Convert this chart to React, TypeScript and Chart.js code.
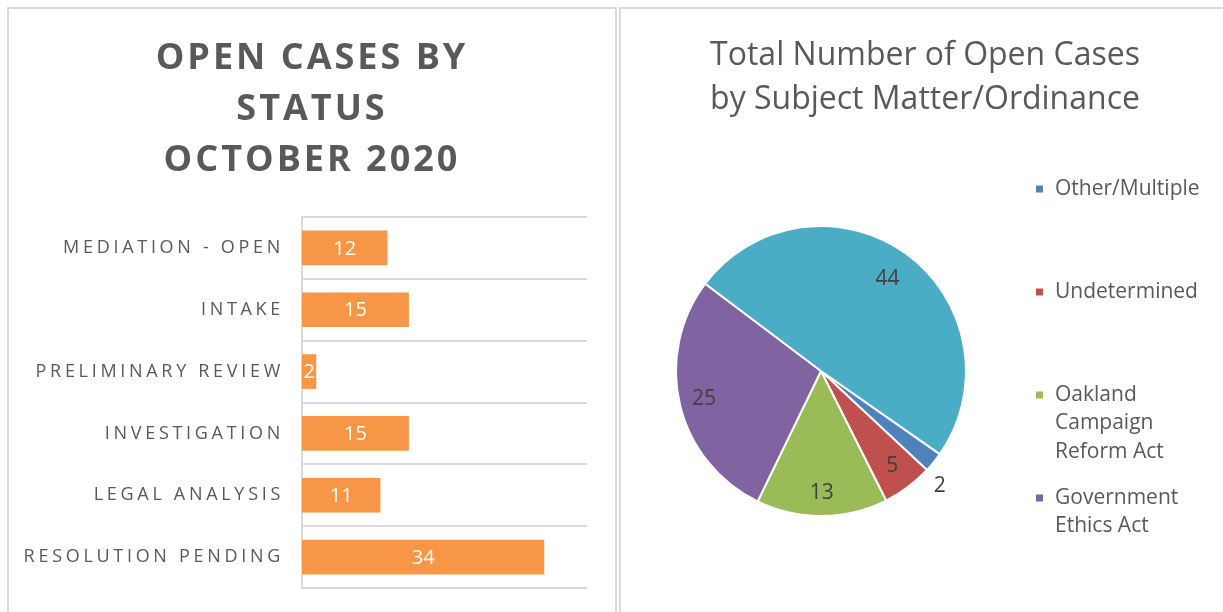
import React, { useEffect, useRef } from "react";
import { Chart, registerables, layouts } from "chart.js";

Chart.register(...registerables);

const FONT = "'Open Sans', 'Noto Sans', sans-serif";
const TEXT_GRAY = "#595959";

// ---- Left chart: open cases by status ----
const statusTitle = ["OPEN CASES BY", "STATUS", "OCTOBER 2020"];
const statusCategories = [
  "MEDIATION - OPEN",
  "INTAKE",
  "PRELIMINARY REVIEW",
  "INVESTIGATION",
  "LEGAL ANALYSIS",
  "RESOLUTION PENDING",
];
const statusCounts = [12, 15, 2, 15, 11, 34];
const statusAxisMax = 40;

// ---- Right chart: open cases by subject matter ----
const subjectTitle = ["Total Number of Open Cases", "by Subject Matter/Ordinance"];
const subjectLabels = [
  "Other/Multiple",
  "Undetermined",
  "Oakland Campaign Reform Act",
  "Government Ethics Act",
  "Unlabeled",
];
const subjectCounts = [2, 5, 13, 25, 44];
const subjectColors = ["#4F81BD", "#C0504D", "#9BBB59", "#8064A2", "#4BACC6"];
const subjectInLegend = [true, true, true, true, false];

// style constants (not data)
const pieRotation = 125;
const pieLabelRadius = [1.14, 0.82, 0.84, 0.83, 0.78];
const pieLabelAngleShift = [5, 0, 0, 0, 0];

function wrapText(ctx: CanvasRenderingContext2D, text: string, maxWidth: number): string[] {
  const words = text.split(" ");
  const lines: string[] = [];
  let cur = "";
  for (const w of words) {
    const test = cur ? cur + " " + w : w;
    if (cur && ctx.measureText(test).width > maxWidth) {
      lines.push(cur);
      cur = w;
    } else {
      cur = test;
    }
  }
  if (cur) lines.push(cur);
  return lines;
}

// A right-hand layout box of fixed width (optionally drawing something)
function makeSideBox(width: number, drawFn?: (box: any) => void) {
  const box: any = {
    position: "right",
    weight: 0,
    fullSize: false,
    options: {},
    left: 0,
    top: 0,
    right: 0,
    bottom: 0,
    width: 0,
    height: 0,
    isHorizontal() {
      return false;
    },
    update(_maxWidth: number, maxHeight: number) {
      this.width = width;
      this.height = maxHeight;
    },
    draw() {
      if (drawFn) drawFn(this);
    },
  };
  const plugin = {
    id: "sideBox" + width,
    start(chart: any) {
      layouts.addBox(chart, box);
    },
    stop(chart: any) {
      layouts.removeBox(chart, box);
    },
  };
  return plugin;
}

function StatusChart() {
  const ref = useRef<HTMLCanvasElement>(null);
  useEffect(() => {
    const canvas = ref.current!;
    const textStyle = {
      id: "statusText",
      beforeDraw(chart: any) {
        chart.ctx.letterSpacing = "3px";
      },
      afterDatasetsDraw(chart: any) {
        const ctx = chart.ctx as CanvasRenderingContext2D;
        const meta = chart.getDatasetMeta(0);
        ctx.save();
        (ctx as any).letterSpacing = "0px";
        ctx.font = `20px ${FONT}`;
        ctx.fillStyle = "#ffffff";
        ctx.textAlign = "center";
        ctx.textBaseline = "middle";
        meta.data.forEach((bar: any, i: number) => {
          const p = bar.getProps(["x", "y", "base"], true);
          ctx.fillText(String(statusCounts[i]), (p.x + p.base) / 2, p.y + 1);
        });
        ctx.restore();
        (ctx as any).letterSpacing = "3.7px";
      },
      afterDraw(chart: any) {
        chart.ctx.letterSpacing = "0px";
      },
    };
    const chart = new Chart(canvas, {
      type: "bar",
      data: {
        labels: statusCategories,
        datasets: [
          {
            data: statusCounts,
            backgroundColor: "#F79646",
            borderWidth: 0,
            barPercentage: 0.56,
            categoryPercentage: 1,
          },
        ],
      },
      options: {
        indexAxis: "y",
        responsive: false,
        maintainAspectRatio: false,
        animation: false,
        layout: { padding: { left: 0, right: 0, top: 0, bottom: 24 } },
        plugins: {
          legend: { display: false },
          tooltip: { enabled: false },
          title: {
            display: true,
            text: statusTitle,
            color: TEXT_GRAY,
            font: { family: FONT, size: 36, weight: "bold", lineHeight: 51 / 36 },
            padding: { top: 24.5, bottom: 30.5 },
          },
        },
        scales: {
          x: { display: false, min: 0, max: statusAxisMax },
          y: {
            afterFit(scale: any) {
              scale.width = 293;
              scale.paddingTop = 0;
              scale.paddingBottom = 0;
            },
            grid: { color: "#d9d9d9", lineWidth: 2, drawTicks: false, offset: true },
            border: { color: "#d9d9d9", width: 2 },
            ticks: { z: 1, padding: 18, color: TEXT_GRAY, font: { family: FONT, size: 18 } },
          },
        },
      } as any,
      plugins: [textStyle, makeSideBox(28)],
    });
    return () => chart.destroy();
  }, []);
  return (
    <canvas
      ref={ref}
      width={606}
      height={603}
      style={{ position: "absolute", left: 9, top: 9 }}
    />
  );
}

function SubjectChart() {
  const ref = useRef<HTMLCanvasElement>(null);
  useEffect(() => {
    const canvas = ref.current!;
    let chartRef: any = null;
    const drawLegend = (box: any) => {
      if (!chartRef) return;
      const ctx = chartRef.ctx as CanvasRenderingContext2D;
      ctx.save();
      ctx.font = `21px ${FONT}`;
      ctx.textBaseline = "middle";
      ctx.textAlign = "left";
      let slot = 0;
      subjectLabels.forEach((label, i) => {
        if (!subjectInLegend[i]) return;
        const y0 = box.top + 48 + slot * 103;
        ctx.fillStyle = subjectColors[i];
        ctx.fillRect(box.left + 69, y0 - 3.5, 7, 7);
        ctx.fillStyle = TEXT_GRAY;
        wrapText(ctx, label, 140).forEach((line, k) => {
          ctx.fillText(line, box.left + 88, y0 + k * 28.5);
        });
        slot++;
      });
      ctx.restore();
    };
    const pieLabels = {
      id: "pieLabels",
      afterDatasetsDraw(chart: any) {
        const ctx = chart.ctx as CanvasRenderingContext2D;
        const meta = chart.getDatasetMeta(0);
        ctx.save();
        ctx.font = `21px ${FONT}`;
        ctx.fillStyle = "#404040";
        ctx.textAlign = "center";
        ctx.textBaseline = "middle";
        meta.data.forEach((arc: any, i: number) => {
          const p = arc.getProps(["x", "y", "startAngle", "endAngle", "outerRadius"], true);
          const mid = (p.startAngle + p.endAngle) / 2 + (pieLabelAngleShift[i] * Math.PI) / 180;
          const r = p.outerRadius * pieLabelRadius[i];
          ctx.fillText(String(subjectCounts[i]), p.x + Math.cos(mid) * r, p.y + Math.sin(mid) * r);
        });
        ctx.restore();
      },
    };
    const chart = new Chart(canvas, {
      type: "pie",
      data: {
        labels: subjectLabels,
        datasets: [
          {
            data: subjectCounts,
            backgroundColor: subjectColors,
            borderColor: "#ffffff",
            borderWidth: 2,
          },
        ],
      },
      options: {
        responsive: false,
        maintainAspectRatio: false,
        animation: false,
        rotation: pieRotation,
        layout: { padding: { left: 54, right: 48, top: 0, bottom: 11 } },
        plugins: {
          legend: { display: false },
          tooltip: { enabled: false },
          title: {
            display: true,
            text: subjectTitle,
            color: TEXT_GRAY,
            font: { family: FONT, size: 32, weight: "normal", lineHeight: 44 / 32 },
            padding: { top: 25, bottom: 19 },
          },
        },
      } as any,
      plugins: [makeSideBox(208, drawLegend), pieLabels],
    });
    chartRef = chart;
    chart.draw();
    return () => chart.destroy();
  }, []);
  return (
    <canvas
      ref={ref}
      width={602}
      height={603}
      style={{ position: "absolute", left: 621, top: 9 }}
    />
  );
}

export default function App() {
  return (
    <div
      style={{
        position: "fixed",
        left: 0,
        top: 0,
        width: 1223,
        height: 612,
        overflow: "hidden",
        background: "#ffffff",
      }}
    >
      <div
        style={{
          position: "absolute",
          left: 7,
          top: 7,
          width: 610,
          height: 660,
          border: "2px solid #d9d9d9",
          boxSizing: "border-box",
        }}
      />
      <div
        style={{
          position: "absolute",
          left: 619,
          top: 7,
          width: 660,
          height: 660,
          border: "2px solid #d9d9d9",
          boxSizing: "border-box",
        }}
      />
      <StatusChart />
      <SubjectChart />
    </div>
  );
}
